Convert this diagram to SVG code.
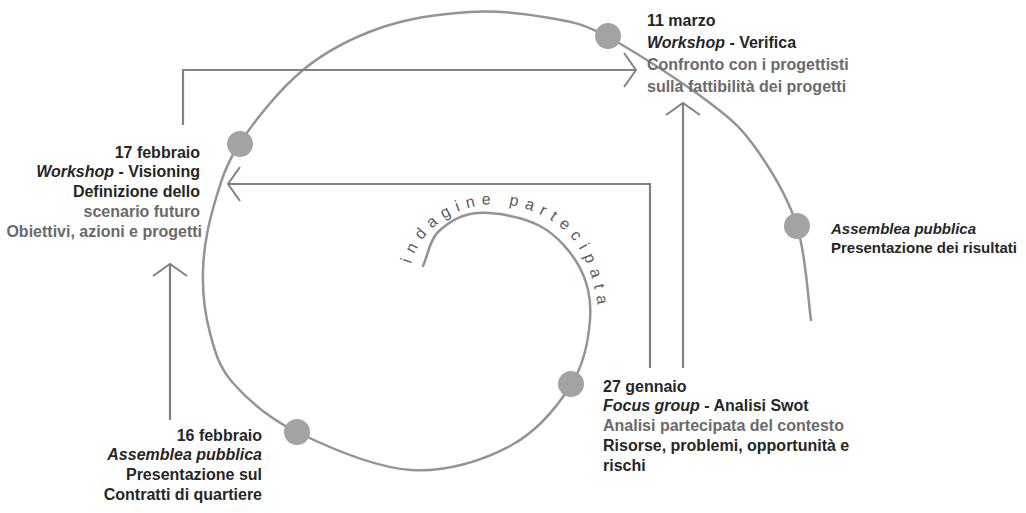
<svg xmlns="http://www.w3.org/2000/svg" width="1026" height="513" viewBox="0 0 1026 513">
<defs>
<style>
.t{font-family:"Liberation Sans",Arial,sans-serif;font-size:16px;font-weight:bold;fill:#262626}
.g{fill:#6a6a6a}
.i{font-style:italic}
.r{text-anchor:end}
.s{font-size:15px}
.node{fill:#a3a3a3}
.conn{fill:none;stroke:#7b8488;stroke-width:2.2}
.spiral{fill:none;stroke:#949494;stroke-width:2.5;stroke-linecap:round}
.arc{font-family:"Liberation Sans",Arial,sans-serif;font-size:16px;fill:#5a5a5a;letter-spacing:6.6px}
</style>
<marker id="chev" markerUnits="userSpaceOnUse" viewBox="0 0 30 40" markerWidth="30" markerHeight="40" refX="15" refY="20" orient="auto">
<path d="M3,3 L15,20 L3,37" fill="none" stroke="#7b8488" stroke-width="2"/>
</marker>
<path id="arcText" d="M411,264 C418,238 440,214 476,206 C510,199 548,212 570,236 C588,256 598,290 600,330"/>
</defs>
<rect width="1026" height="513" fill="#ffffff"/>

<g id="spiral">
<path class="spiral" d="M423,266 C428,255 429,241 438,232 C447.2,223.2 461,214 478,213 C495,212 523,216.8 540,226 C557,235.2 571.7,252.3 580,268 C588.3,283.7 591.5,300.5 590,320 C588.5,339.5 584.3,364 571,385 C557.7,406 536.7,431.8 510,446 C483.3,460.2 446.5,472.3 411,470 C375.5,467.7 326.7,446.5 297,432 C267.3,417.5 247.5,399.5 233,383 C218.5,366.5 215,351.8 210,333 C205,314.2 202.3,291.3 203,270 C203.7,248.7 207.8,226.2 214,205 C220.2,183.8 225.2,165.5 240,143 C254.8,120.5 279.7,89.2 303,70 C326.3,50.8 352.2,37.7 380,28 C407.8,18.3 441.7,13.7 470,12 C498.3,10.3 527,13.8 550,18 C573,22.2 581.3,22.8 608,37 C634.7,51.2 685.2,84.2 710,103 C734.8,121.8 742.5,129.5 757,150 C771.5,170.5 788,197.7 797,226 C806,254.3 808,300 811,320"/>
<text class="arc"><textPath href="#arcText">indagine partecipata</textPath></text>
</g>

<g id="connectors">
<path class="conn" d="M183,125 V70 H636" marker-end="url(#chev)"/>
<path class="conn" d="M650,368 V184 H228" marker-end="url(#chev)"/>
<path class="conn" d="M683,368 V103" marker-end="url(#chev)"/>
<path class="conn" d="M170,420 V264" marker-end="url(#chev)"/>
</g>

<g id="node-11-marzo">
<circle class="node" cx="608" cy="36" r="13"/>
<text class="t" x="647" y="26">11 marzo</text>
<text class="t" x="647" y="48"><tspan class="i">Workshop</tspan> - Verifica</text>
<text class="t g" x="647" y="70">Confronto con i progettisti</text>
<text class="t g" x="647" y="92">sulla fattibilità dei progetti</text>
</g>

<g id="node-17-febbraio">
<circle class="node" cx="240" cy="144" r="13"/>
<text class="t r" x="200" y="158">17 febbraio</text>
<text class="t r" x="200" y="177"><tspan class="i">Workshop</tspan> - Visioning</text>
<text class="t r" x="200" y="197">Definizione dello</text>
<text class="t r g" x="200" y="217">scenario futuro</text>
<text class="t r g" x="202" y="237">Obiettivi, azioni e progetti</text>
</g>

<g id="node-assemblea-finale">
<circle class="node" cx="797" cy="226" r="13"/>
<text class="t i s" x="831" y="234">Assemblea pubblica</text>
<text class="t s" x="831" y="253">Presentazione dei risultati</text>
</g>

<g id="node-27-gennaio">
<circle class="node" cx="571" cy="384" r="13"/>
<text class="t" x="603" y="392">27 gennaio</text>
<text class="t" x="603" y="411"><tspan class="i">Focus group</tspan> - Analisi Swot</text>
<text class="t g" x="603" y="431">Analisi partecipata del contesto</text>
<text class="t" x="603" y="451">Risorse, problemi, opportunità e</text>
<text class="t" x="603" y="471">rischi</text>
</g>

<g id="node-16-febbraio">
<circle class="node" cx="297" cy="432" r="13"/>
<text class="t r" x="262" y="441">16 febbraio</text>
<text class="t r i" x="262" y="460">Assemblea pubblica</text>
<text class="t r" x="262" y="480">Presentazione sul</text>
<text class="t r" x="262" y="500">Contratti di quartiere</text>
</g>
</svg>
